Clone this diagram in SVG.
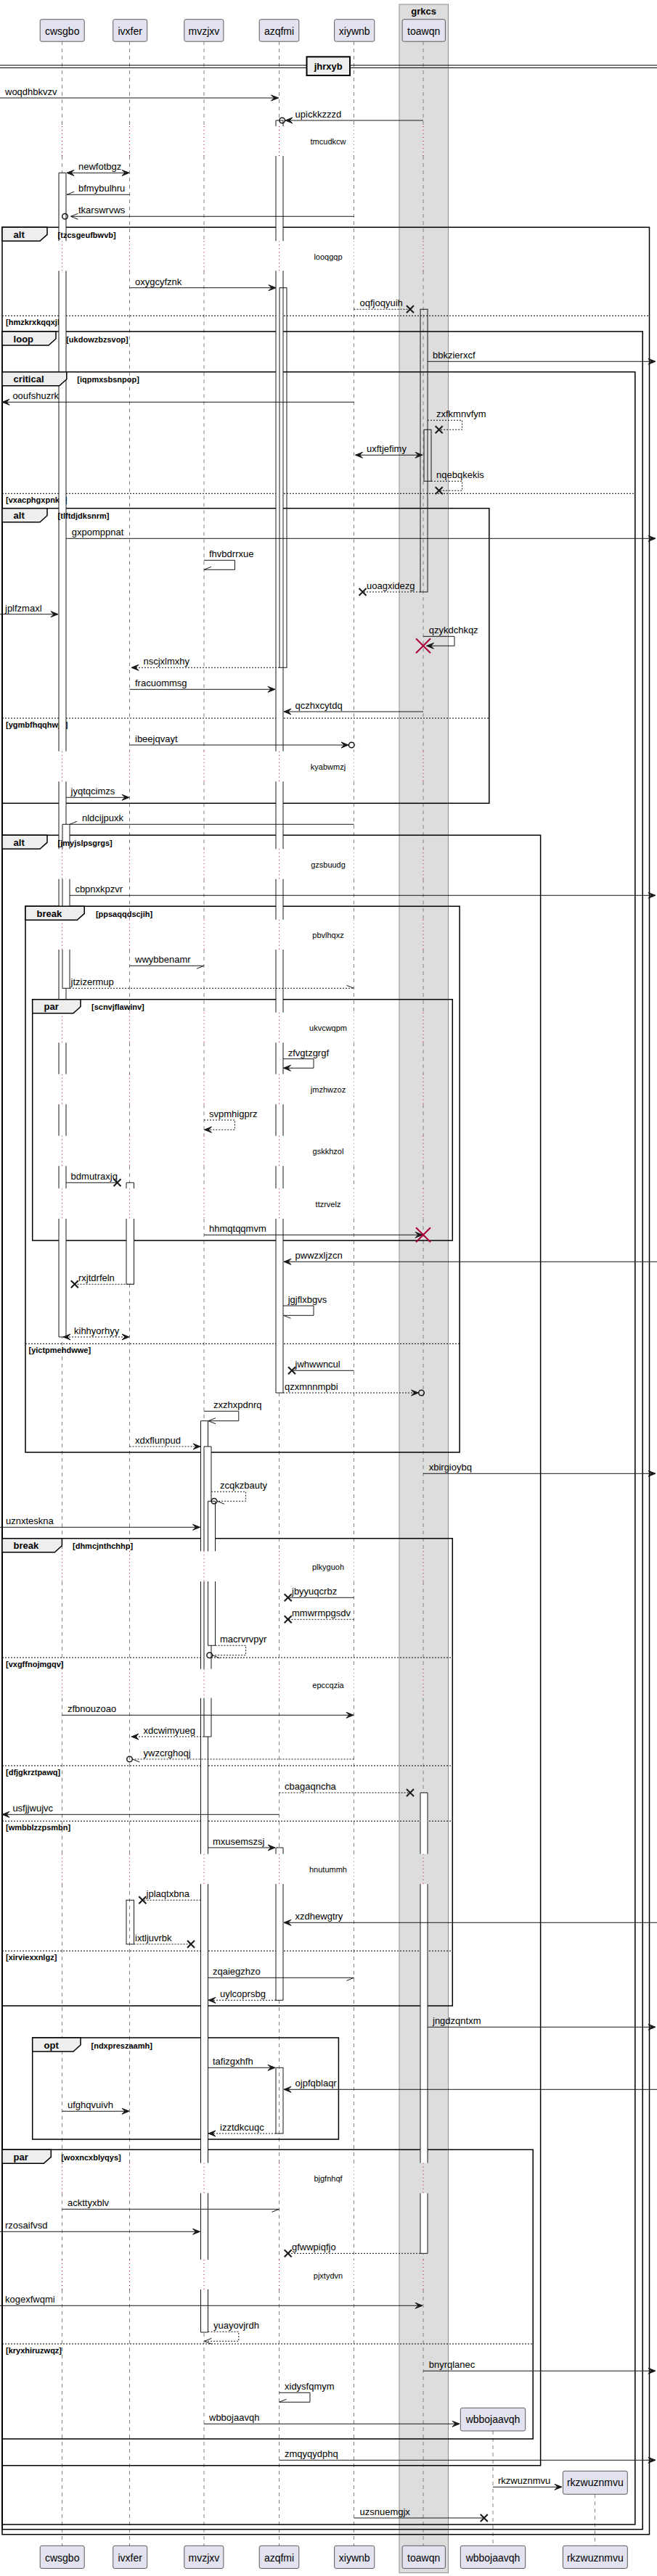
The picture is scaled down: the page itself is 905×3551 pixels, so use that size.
<svg xmlns="http://www.w3.org/2000/svg" width="905" height="3551" viewBox="0 0 905 3551">
<style>
.pb{fill:#E2E2F0;stroke:#5a5a5a;stroke-width:1}
.pt{font-family:"Liberation Sans",Arial,sans-serif;font-size:14px;text-anchor:middle;fill:#000}
.ll{stroke:#808080;stroke-width:1;stroke-dasharray:5,5;fill:none}
.dl{stroke:#A80036;stroke-width:1;stroke-dasharray:1,4;fill:none}
.dlg{stroke:#808080;stroke-width:1;stroke-dasharray:1,4;fill:none}
.fr{fill:none;stroke:#000;stroke-width:1.5}
.fh{fill:#EEEEEE;stroke:#000;stroke-width:1.5}
.ft{font-family:"Liberation Sans",Arial,sans-serif;font-size:13px;font-weight:bold;fill:#000}
.fc{font-family:"Liberation Sans",Arial,sans-serif;font-size:11px;font-weight:bold;fill:#000}
.es{stroke:#000;stroke-width:1;stroke-dasharray:2,2;fill:none}
.m{stroke:#181818;stroke-width:1;fill:none}
.md{stroke:#181818;stroke-width:1;stroke-dasharray:2,2;fill:none}
.ml{font-family:"Liberation Sans",Arial,sans-serif;font-size:13px;fill:#000}
.dt{font-family:"Liberation Sans",Arial,sans-serif;font-size:11px;text-anchor:middle;fill:#000}
.ab{fill:#fff;stroke:none}
.ae{fill:none;stroke:#181818;stroke-width:1}
.x{stroke:#181818;stroke-width:2;fill:none}
.rx{stroke:#A80036;stroke-width:2;fill:none}
.ci{fill:none;stroke:#181818;stroke-width:1.5}
</style>
<defs>
<marker id="f" viewBox="-11 -6 13 12" refX="0" refY="0" markerWidth="13" markerHeight="12" markerUnits="userSpaceOnUse" orient="auto-start-reverse"><path d="M0,0 L-10,-4 L-6,0 L-10,4 Z" fill="#181818" stroke="#181818" stroke-width="1"/></marker>
<marker id="o" viewBox="-11 -6 13 12" refX="0" refY="0" markerWidth="13" markerHeight="12" markerUnits="userSpaceOnUse" orient="auto-start-reverse"><path d="M-10,-4 L0,0 L-10,4" fill="none" stroke="#181818" stroke-width="1"/></marker>
<marker id="hu" viewBox="-11 -6 13 12" refX="0" refY="0" markerWidth="13" markerHeight="12" markerUnits="userSpaceOnUse" orient="auto"><path d="M-10,-4 L0,0" fill="none" stroke="#181818" stroke-width="1"/></marker>
<marker id="hd" viewBox="-11 -6 13 12" refX="0" refY="0" markerWidth="13" markerHeight="12" markerUnits="userSpaceOnUse" orient="auto"><path d="M-10,4 L0,0" fill="none" stroke="#181818" stroke-width="1"/></marker>
<path id="ll" d="M0 57V174M0 215V332.3M0 373.3V1035.7M0 1077.3V1170.3M0 1211.7V1267.7M0 1309V1395.7M0 1437.3V1480.7M0 1522.3V1565.7M0 1607.3V1638.3M0 1680V2138.3M0 2180V2300.7M0 2340.7V2555.7M0 2597V2981.7M0 3023.3V3115M0 3156V3509"/>
<path id="dl" d="M0 174V215M0 332.3V373.3M0 1035.7V1077.3M0 1170.3V1211.7M0 1267.7V1309M0 1395.7V1437.3M0 1480.7V1522.3M0 1565.7V1607.3M0 1638.3V1680M0 2138.3V2180M0 2300.7V2340.7M0 2555.7V2597M0 2981.7V3023.3M0 3115V3156"/>
<path id="xm" d="M-5,-5L5,5M-5,5L5,-5"/>
<path id="rxm" d="M-10,-10L10,10M-10,10L10,-10"/>
</defs>
<rect x="0" y="0" width="905" height="3551" fill="#fff"/>
<g id="box-grkcs">
<rect x="550" y="6" width="67.5" height="3540.7" fill="#DDDDDD" stroke="#8d8d8d" stroke-width="1"/>
<text x="583.7" y="20" class="ft" text-anchor="middle">grkcs</text>
</g>
<g id="lifelines">
<use href="#ll" x="85.5" class="ll"/><use href="#dl" x="85.5" class="dl"/>
<use href="#ll" x="178.5" class="ll"/><use href="#dl" x="178.5" class="dl"/>
<use href="#ll" x="281" class="ll"/><use href="#dl" x="281" class="dl"/>
<use href="#ll" x="384.5" class="ll"/><use href="#dl" x="384.5" class="dl"/>
<use href="#ll" x="487.5" class="ll"/><use href="#dl" x="487.5" class="dlg"/>
<use href="#ll" x="583" class="ll"/><use href="#dl" x="583" class="dl"/>
<path class="ll" d="M679 3351V3509M819.5 3438.3V3509"/>
</g>
<g id="separator-jhrxyb">
<path d="M0 90H905M0 93.5H905" stroke="#000" stroke-width="1" fill="none"/>
<rect x="422.5" y="78.3" width="59.5" height="25.7" fill="#EEEEEE" stroke="#000" stroke-width="2"/>
<text x="452.2" y="96" class="ft" text-anchor="middle">jhrxyb</text>
</g>
<g id="frames">
<rect class="fr" x="3" y="313.3" width="891.5" height="3180.4"/>
<rect class="fr" x="3" y="457" width="882.2" height="3029.7"/>
<rect class="fr" x="3" y="512.7" width="871.8" height="2967.3"/>
<rect class="fr" x="3" y="700.7" width="670.8" height="406.6"/>
<rect class="fr" x="3" y="1151.3" width="741.6" height="2247.4"/>
<rect class="fr" x="35" y="1249.3" width="598.1" height="752.7"/>
<rect class="fr" x="44.7" y="1377.7" width="578.6" height="332.3"/>
<rect class="fr" x="3" y="2120.7" width="620.3" height="644.3"/>
<rect class="fr" x="44.7" y="2809" width="421.7" height="140"/>
<rect class="fr" x="3" y="2963.3" width="731.2" height="398.7"/>
<path class="es" d="M3 435.3H894.5M3 680.3H874.8M3 990H673.8M35 1852.3H633.1M3 2285H623.3M3 2434H623.3M3 2510.3H623.3M3 2689.3H623.3M3 3231H734.2"/>
<text class="fc" x="8" y="448">[hmzkrxkqqxjk]</text>
<text class="fc" x="8" y="693">[vxacphgxpnkq]</text>
<text class="fc" x="8" y="1002.5">[ygmbfhqqhwjd]</text>
<text class="fc" x="39.5" y="1865">[yictpmehdwwe]</text>
<text class="fc" x="8" y="2297.5">[vxgffnojmgqv]</text>
<text class="fc" x="8" y="2446.5">[dfjgkrztpawq]</text>
<text class="fc" x="8" y="2523">[wmbblzzpsmbn]</text>
<text class="fc" x="8" y="2702">[xirviexxnlgz]</text>
<text class="fc" x="8" y="3243.5">[kryxhiruzwqz]</text>
</g>
<g id="activations">
<rect class="ab" x="81" y="238.3" width="10" height="94"/><rect class="ab" x="81" y="373.3" width="10" height="662.4"/><rect class="ab" x="81" y="1077.3" width="10" height="93"/><rect class="ab" x="81" y="1211.7" width="10" height="56"/><rect class="ab" x="81" y="1309" width="10" height="86.7"/><rect class="ab" x="81" y="1437.3" width="10" height="43.4"/><rect class="ab" x="81" y="1522.3" width="10" height="43.4"/><rect class="ab" x="81" y="1607.3" width="10" height="31"/><rect class="ab" x="81" y="1680" width="10" height="163"/>
<path class="ae" d="M81 238.3H91M81 1843H91M81 238.3V332.3M91 238.3V332.3M81 373.3V1035.7M91 373.3V1035.7M81 1077.3V1170.3M91 1077.3V1170.3M81 1211.7V1267.7M91 1211.7V1267.7M81 1309V1395.7M91 1309V1395.7M81 1437.3V1480.7M91 1437.3V1480.7M81 1522.3V1565.7M91 1522.3V1565.7M81 1607.3V1638.3M91 1607.3V1638.3M81 1680V1843M91 1680V1843"/>
<rect class="ab" x="86" y="1136.3" width="10" height="34"/><rect class="ab" x="86" y="1211.7" width="10" height="56"/><rect class="ab" x="86" y="1309" width="10" height="53.3"/>
<path class="ae" d="M86 1136.3H96M86 1362.3H96M86 1136.3V1170.3M96 1136.3V1170.3M86 1211.7V1267.7M96 1211.7V1267.7M86 1309V1362.3M96 1309V1362.3"/>
<rect class="ab" x="174" y="1630.3" width="10.5" height="8"/><rect class="ab" x="174" y="1680" width="10.5" height="90.3"/>
<path class="ae" d="M174 1630.3H184.5M174 1770.3H184.5M174 1630.3V1638.3M184.5 1630.3V1638.3M174 1680V1770.3M184.5 1680V1770.3"/>
<rect class="ae" fill="#fff" x="174" y="2619.3" width="10.5" height="60.7"/>
<rect class="ab" x="276.5" y="1958.7" width="10" height="179.6"/><rect class="ab" x="276.5" y="2180" width="10" height="120.7"/><rect class="ab" x="276.5" y="2340.7" width="10" height="215"/><rect class="ab" x="276.5" y="2597" width="10" height="384.7"/><rect class="ab" x="276.5" y="3023.3" width="10" height="91.7"/><rect class="ab" x="276.5" y="3156" width="10" height="59"/>
<path class="ae" d="M276.5 1958.7H286.5M276.5 3215H286.5M276.5 1958.7V2138.3M286.5 1958.7V2138.3M276.5 2180V2300.7M286.5 2180V2300.7M276.5 2340.7V2555.7M286.5 2340.7V2555.7M276.5 2597V2981.7M286.5 2597V2981.7M276.5 3023.3V3115M286.5 3023.3V3115M276.5 3156V3215M286.5 3156V3215"/>
<rect class="ab" x="281" y="1994" width="10" height="144.3"/><rect class="ab" x="281" y="2180" width="10" height="120.7"/><rect class="ab" x="281" y="2340.7" width="10" height="53.3"/>
<path class="ae" d="M281 1994H291M281 2394H291M281 1994V2138.3M291 1994V2138.3M281 2180V2300.7M291 2180V2300.7M281 2340.7V2394M291 2340.7V2394"/>
<rect class="ab" x="286.5" y="2069.3" width="10" height="69"/><rect class="ab" x="286.5" y="2180" width="10" height="88.3"/>
<path class="ae" d="M286.5 2069.3H296.5M286.5 2268.3H296.5M286.5 2069.3V2138.3M296.5 2069.3V2138.3M286.5 2180V2268.3M296.5 2180V2268.3"/>
<rect class="ab" x="380" y="166" width="10" height="8"/><rect class="ab" x="380" y="215" width="10" height="117.3"/><rect class="ab" x="380" y="373.3" width="10" height="662.4"/><rect class="ab" x="380" y="1077.3" width="10" height="93"/><rect class="ab" x="380" y="1211.7" width="10" height="56"/><rect class="ab" x="380" y="1309" width="10" height="86.7"/><rect class="ab" x="380" y="1437.3" width="10" height="43.4"/><rect class="ab" x="380" y="1522.3" width="10" height="43.4"/><rect class="ab" x="380" y="1607.3" width="10" height="31"/><rect class="ab" x="380" y="1680" width="10" height="240"/>
<path class="ae" d="M380 166H390M380 1920H390M380 166V174M390 166V174M380 215V332.3M390 215V332.3M380 373.3V1035.7M390 373.3V1035.7M380 1077.3V1170.3M390 1077.3V1170.3M380 1211.7V1267.7M390 1211.7V1267.7M380 1309V1395.7M390 1309V1395.7M380 1437.3V1480.7M390 1437.3V1480.7M380 1522.3V1565.7M390 1522.3V1565.7M380 1607.3V1638.3M390 1607.3V1638.3M380 1680V1920M390 1680V1920"/>
<rect class="ae" fill="#fff" x="385" y="396.7" width="10" height="523.6"/>
<rect class="ab" x="380" y="2547" width="10" height="8.7"/><rect class="ab" x="380" y="2597" width="10" height="160.3"/>
<path class="ae" d="M380 2547H390M380 2757.3H390M380 2547V2555.7M390 2547V2555.7M380 2597V2757.3M390 2597V2757.3"/>
<rect class="ae" fill="#fff" x="380" y="2850.3" width="10" height="90.7"/>
<rect class="ae" fill="#fff" x="579" y="426.3" width="10" height="389.7"/>
<rect class="ae" fill="#fff" x="584" y="592.3" width="10" height="71"/>
<rect class="ab" x="579" y="2471.3" width="10" height="84.4"/><rect class="ab" x="579" y="2597" width="10" height="384.7"/><rect class="ab" x="579" y="3023.3" width="10" height="83"/>
<path class="ae" d="M579 2471.3H589M579 3106.3H589M579 2471.3V2555.7M589 2471.3V2555.7M579 2597V2981.7M589 2597V2981.7M579 3023.3V3106.3M589 3023.3V3106.3"/>
</g>
<g id="delays">
<text class="dt" x="452" y="199">tmcudkcw</text>
<text class="dt" x="452" y="358">looqgqp</text>
<text class="dt" x="452" y="1061">kyabwmzj</text>
<text class="dt" x="452" y="1196">gzsbuudg</text>
<text class="dt" x="452" y="1293">pbvlhqxz</text>
<text class="dt" x="452" y="1421">ukvcwqpm</text>
<text class="dt" x="452" y="1506">jmzhwzoz</text>
<text class="dt" x="452" y="1591">gskkhzol</text>
<text class="dt" x="452" y="1664">ttzrvelz</text>
<text class="dt" x="452" y="2164">plkyguoh</text>
<text class="dt" x="452" y="2326.5">epccqzia</text>
<text class="dt" x="452" y="2581">hnutummh</text>
<text class="dt" x="452" y="3007">bjgfnhqf</text>
<text class="dt" x="452" y="3140.5">pjxtydvn</text>
</g>
<g id="connectors">
<path class="m" d="M0 135H383.5" marker-end="url(#f)"/><text class="ml" x="7" y="131">woqdhbkvzv</text>
<path class="m" d="M583 166H393" marker-end="url(#f)"/><circle class="ci" cx="388.6" cy="166" r="3.8"/><text class="ml" x="406.6" y="161.5">upickkzzzd</text>
<path class="m" d="M92 238.3H178" marker-start="url(#f)" marker-end="url(#f)"/><text class="ml" x="108" y="234">newfotbgz</text>
<path class="m" d="M178.5 268.3H92" marker-end="url(#hd)"/><text class="ml" x="108" y="264">bfmybulhru</text>
<path class="m" d="M487.5 298.3H97.5" marker-end="url(#o)"/><circle class="ci" cx="89.5" cy="298.3" r="3.8"/><text class="ml" x="108" y="294">tkarswrvws</text>
<path class="m" d="M178.5 396.7H380" marker-end="url(#f)"/><text class="ml" x="186" y="392.5">oxygcyfznk</text>
<path class="md" d="M487.5 426.3H565"/><use href="#xm" x="565" y="426.3" class="x"/><text class="ml" x="495.5" y="422">oqfjoqyuih</text>
<path class="m" d="M589 498.3H903" marker-end="url(#f)"/><text class="ml" x="596" y="494">bbkzierxcf</text>
<path class="m" d="M487.5 554.3H3" marker-end="url(#f)"/><text class="ml" x="17.4" y="550">ooufshuzrk</text>
<path class="md" d="M589 579.3H636.6V592.3H604.7"/><use href="#xm" x="604.7" y="592.3" class="x"/><text class="ml" x="601" y="575">zxfkmnvfym</text>
<path class="m" d="M489.5 627.3H582" marker-start="url(#f)" marker-end="url(#f)"/><text class="ml" x="505" y="623">uxftjefimy</text>
<path class="md" d="M594 663.3H636.6V676.3H604.7"/><use href="#xm" x="604.7" y="676.3" class="x"/><text class="ml" x="601" y="659">nqebqkekis</text>
<path class="m" d="M91 742.3H903" marker-end="url(#f)"/><text class="ml" x="98.7" y="738">gxpomppnat</text>
<path class="m" d="M281 772.3H323.5V785.3H281" marker-end="url(#hd)"/><text class="ml" x="288" y="768">fhvbdrrxue</text>
<path class="md" d="M579 816H499.5"/><use href="#xm" x="499.5" y="816" class="x"/><text class="ml" x="505" y="812">uoagxidezg</text>
<path class="m" d="M0 846.7H80" marker-end="url(#f)"/><text class="ml" x="7" y="842.5">jplfzmaxl</text>
<path class="m" d="M583 877.3H626V890.3H587.5" marker-end="url(#f)"/><use href="#rxm" x="583" y="890.3" class="rx"/><text class="ml" x="590.7" y="873">qzykdchkqz</text>
<path class="md" d="M385 920.3H181" marker-end="url(#f)"/><text class="ml" x="197.5" y="916">nscjxlmxhy</text>
<path class="m" d="M178.5 950.3H379" marker-end="url(#f)"/><text class="ml" x="186" y="946">fracuommsg</text>
<path class="m" d="M583 981H391" marker-end="url(#f)"/><text class="ml" x="406.6" y="977">qczhxcytdq</text>
<path class="m" d="M178.5 1027H480" marker-end="url(#f)"/><circle class="ci" cx="484.3" cy="1027" r="3.8"/><text class="ml" x="186" y="1023">ibeejqvayt</text>
<path class="m" d="M91 1099.3H178" marker-end="url(#f)"/><text class="ml" x="97.6" y="1095">jyqtqcimzs</text>
<path class="m" d="M487.5 1136.3H96" marker-end="url(#hd)"/><text class="ml" x="113" y="1132">nldcijpuxk</text>
<path class="m" d="M96 1234.3H903" marker-end="url(#f)"/><text class="ml" x="103.4" y="1230">cbpnxkpzvr</text>
<path class="m" d="M178.5 1331.3H281" marker-end="url(#hd)"/><text class="ml" x="186" y="1327">wwybbenamr</text>
<path class="md" d="M96 1362.3H487.5" marker-end="url(#hu)"/><text class="ml" x="97.6" y="1358">jtzizermup</text>
<path class="m" d="M390 1459.7H432V1472.3H390.5" marker-end="url(#f)"/><text class="ml" x="396.7" y="1455.5">zfvgtzgrgf</text>
<path class="md" d="M281 1544H323.5V1557.3H281.5" marker-end="url(#f)"/><text class="ml" x="288" y="1540">svpmhigprz</text>
<path class="m" d="M91 1630.3H161.5"/><use href="#xm" x="161.5" y="1630.3" class="x"/><text class="ml" x="97.6" y="1626">bdmutraxjq</text>
<path class="m" d="M281 1702.3H582" marker-end="url(#f)"/><use href="#rxm" x="583" y="1702.3" class="rx"/><text class="ml" x="288" y="1698">hhmqtqqmvm</text>
<path class="m" d="M905 1739.3H391" marker-end="url(#f)"/><text class="ml" x="406.6" y="1735">pwwzxljzcn</text>
<path class="md" d="M184.5 1770.3H102.8"/><use href="#xm" x="102.8" y="1770.3" class="x"/><text class="ml" x="108" y="1766">rxjtdrfeln</text>
<path class="m" d="M390 1800H432V1813.3H390.5" marker-end="url(#hu)"/><text class="ml" x="396.7" y="1796">jgjflxbgvs</text>
<path class="md" d="M87 1843H178" marker-start="url(#f)" marker-end="url(#f)"/><text class="ml" x="102" y="1839">kihhyorhyy</text>
<path class="m" d="M487.5 1889.3H402"/><use href="#xm" x="402" y="1889.3" class="x"/><text class="ml" x="406.6" y="1885">jwhwwncul</text>
<path class="md" d="M390 1920H576.5" marker-end="url(#f)"/><circle class="ci" cx="580.5" cy="1920" r="3.8"/><text class="ml" x="392" y="1916">qzxmnnmpbi</text>
<path class="m" d="M281 1945.3H328.8V1958.7H287" marker-end="url(#o)"/><text class="ml" x="294" y="1941">zxzhxpdnrq</text>
<path class="md" d="M178.5 1994H276" marker-end="url(#f)"/><text class="ml" x="186" y="1990">xdxflunpud</text>
<path class="m" d="M583 2031.3H903" marker-end="url(#f)"/><text class="ml" x="590.7" y="2027">xbirgioybq</text>
<path class="md" d="M291 2056.3H338.6V2069.3H299" marker-end="url(#hu)"/><circle class="ci" cx="295" cy="2069.3" r="3.8"/><text class="ml" x="303" y="2052">zcqkzbauty</text>
<path class="m" d="M0 2105.3H275.5" marker-end="url(#f)"/><text class="ml" x="8" y="2101">uznxteskna</text>
<path class="m" d="M487.5 2202.3H396.7"/><use href="#xm" x="396.7" y="2202.3" class="x"/><text class="ml" x="402" y="2198">jbyyuqcrbz</text>
<path class="md" d="M487.5 2232.3H396.7"/><use href="#xm" x="396.7" y="2232.3" class="x"/><text class="ml" x="402" y="2228">mmwrmpgsdv</text>
<path class="md" d="M296.5 2268.3H338.6V2281.7H292.5" marker-end="url(#hu)"/><circle class="ci" cx="288.7" cy="2281.7" r="3.8"/><text class="ml" x="303" y="2264">macrvrvpyr</text>
<path class="m" d="M85.5 2364.3H487" marker-end="url(#f)"/><text class="ml" x="93" y="2360">zfbnouzoao</text>
<path class="md" d="M281 2394H181" marker-end="url(#f)"/><text class="ml" x="197.5" y="2390">xdcwimyueg</text>
<path class="md" d="M487.5 2425H182.3" marker-end="url(#hu)"/><circle class="ci" cx="178.5" cy="2425" r="3.8"/><text class="ml" x="197.5" y="2421">ywzcrghoqj</text>
<path class="md" d="M384.5 2471.3H565"/><use href="#xm" x="565" y="2471.3" class="x"/><text class="ml" x="392" y="2467">cbagaqncha</text>
<path class="m" d="M384.5 2501.3H3" marker-end="url(#f)"/><text class="ml" x="17.4" y="2497">usfjjwujvc</text>
<path class="m" d="M286.5 2547H379" marker-end="url(#f)"/><text class="ml" x="293" y="2543">mxusemszsj</text>
<path class="md" d="M276.5 2619.3H196.3"/><use href="#xm" x="196.3" y="2619.3" class="x"/><text class="ml" x="201.6" y="2615">jplaqtxbna</text>
<path class="m" d="M905 2650.3H391" marker-end="url(#f)"/><text class="ml" x="406.6" y="2646">xzdhewgtry</text>
<path class="md" d="M184.5 2680H263"/><use href="#xm" x="263" y="2680" class="x"/><text class="ml" x="186" y="2676">ixtljuvrbk</text>
<path class="m" d="M286.5 2726.3H487.5" marker-end="url(#hd)"/><text class="ml" x="293" y="2722">zqaiegzhzo</text>
<path class="md" d="M380 2757.3H287" marker-end="url(#f)"/><text class="ml" x="303" y="2753">uylcoprsbg</text>
<path class="m" d="M589 2794.3H903" marker-end="url(#f)"/><text class="ml" x="596" y="2790">jngdzqntxm</text>
<path class="m" d="M286.5 2850.3H379" marker-end="url(#f)"/><text class="ml" x="293" y="2846">tafizgxhfh</text>
<path class="m" d="M905 2880.3H391" marker-end="url(#f)"/><text class="ml" x="406.6" y="2876">ojpfqblaqr</text>
<path class="m" d="M85.5 2910.3H178" marker-end="url(#f)"/><text class="ml" x="93" y="2906">ufghqvuivh</text>
<path class="md" d="M380 2941H287" marker-end="url(#f)"/><text class="ml" x="303" y="2937">izztdkcuqc</text>
<path class="m" d="M85.5 3045.3H384.5" marker-end="url(#hd)"/><text class="ml" x="93" y="3041">ackttyxblv</text>
<path class="m" d="M0 3076.3H275.5" marker-end="url(#f)"/><text class="ml" x="7" y="3072">rzosaifvsd</text>
<path class="md" d="M579 3106.3H396.7"/><use href="#xm" x="396.7" y="3106.3" class="x"/><text class="ml" x="402" y="3102">gfwwpiqfjo</text>
<path class="m" d="M0 3178.3H582" marker-end="url(#f)"/><text class="ml" x="7" y="3174">kogexfwqmi</text>
<path class="md" d="M286.5 3214.3H328.8V3227.3H281.5" marker-end="url(#o)"/><text class="ml" x="294" y="3210">yuayovjrdh</text>
<path class="m" d="M583 3268.3H903" marker-end="url(#f)"/><text class="ml" x="590.7" y="3264">bnyrqlanec</text>
<path class="m" d="M384.5 3298.3H427V3311.3H384.5" marker-end="url(#hd)"/><text class="ml" x="392" y="3294">xidysfqmym</text>
<path class="m" d="M281 3341.3H633" marker-end="url(#f)"/><text class="ml" x="288" y="3337">wbbojaavqh</text>
<path class="m" d="M384.5 3391.3H903" marker-end="url(#f)"/><text class="ml" x="392" y="3387">zmqyqydphq</text>
<path class="m" d="M679 3428.3H774" marker-end="url(#f)"/><text class="ml" x="686" y="3424">rkzwuznmvu</text>
<path class="m" d="M487.5 3471H666.8"/><use href="#xm" x="666.8" y="3471" class="x"/><text class="ml" x="495.5" y="3467">uzsnuemgjx</text>
</g>
<g id="frame-headers">
<polygon class="fh" points="3,313.3 65,313.3 65,323.3 55,332.3 3,332.3"/><text class="ft" x="18.6" y="327.8">alt</text><text class="fc" x="79.6" y="327.8">[tzcsgeufbwvb]</text>
<polygon class="fh" points="3,457 77,457 77,467 67,476 3,476"/><text class="ft" x="18.6" y="471.5">loop</text><text class="fc" x="91.2" y="471.5">[ukdowzbzsvop]</text>
<polygon class="fh" points="3,512.7 91.8,512.7 91.8,522.7 81.8,531.7 3,531.7"/><text class="ft" x="18.6" y="527.2">critical</text><text class="fc" x="106.3" y="527.2">[iqpmxsbsnpop]</text>
<polygon class="fh" points="3,700.7 65,700.7 65,710.7 55,719.7 3,719.7"/><text class="ft" x="18.6" y="715.2">alt</text><text class="fc" x="79.6" y="715.2">[tlftdjdksnrm]</text>
<polygon class="fh" points="3,1151.3 65,1151.3 65,1161.3 55,1170.3 3,1170.3"/><text class="ft" x="18.6" y="1165.8">alt</text><text class="fc" x="79.6" y="1165.8">[jmyjslpsgrgs]</text>
<polygon class="fh" points="35,1249.3 116.2,1249.3 116.2,1259.3 106.2,1268.3 35,1268.3"/><text class="ft" x="50.6" y="1263.8">break</text><text class="fc" x="131.9" y="1263.8">[ppsaqqdscjih]</text>
<polygon class="fh" points="44.7,1377.7 111,1377.7 111,1387.7 101,1396.7 44.7,1396.7"/><text class="ft" x="60.6" y="1392.2">par</text><text class="fc" x="126" y="1392.2">[scnvjflawinv]</text>
<polygon class="fh" points="3,2120.7 85.4,2120.7 85.4,2130.7 75.4,2139.7 3,2139.7"/><text class="ft" x="18.6" y="2135.2">break</text><text class="fc" x="100" y="2135.2">[dhmcjnthchhp]</text>
<polygon class="fh" points="44.7,2809 111,2809 111,2819 101,2828 44.7,2828"/><text class="ft" x="60.6" y="2823.5">opt</text><text class="fc" x="125.5" y="2823.5">[ndxpreszaamh]</text>
<polygon class="fh" points="3,2963.3 70.3,2963.3 70.3,2973.3 60.3,2982.3 3,2982.3"/><text class="ft" x="18.6" y="2977.8">par</text><text class="fc" x="84.2" y="2977.8">[woxncxblyqys]</text>
</g>
<g id="p-cwsgbo"><rect class="pb" x="55.2" y="26.7" width="61" height="30.5" rx="2.5"/><text class="pt" x="85.7" y="47.5">cwsgbo</text><rect class="pb" x="55.2" y="3509.3" width="61" height="31.2" rx="2.5"/><text class="pt" x="85.7" y="3530.5">cwsgbo</text></g>
<g id="p-ivxfer"><rect class="pb" x="155.7" y="26.7" width="47" height="30.5" rx="2.5"/><text class="pt" x="179.2" y="47.5">ivxfer</text><rect class="pb" x="155.7" y="3509.3" width="47" height="31.2" rx="2.5"/><text class="pt" x="179.2" y="3530.5">ivxfer</text></g>
<g id="p-mvzjxv"><rect class="pb" x="253.8" y="26.7" width="54.1" height="30.5" rx="2.5"/><text class="pt" x="280.9" y="47.5">mvzjxv</text><rect class="pb" x="253.8" y="3509.3" width="54.1" height="31.2" rx="2.5"/><text class="pt" x="280.9" y="3530.5">mvzjxv</text></g>
<g id="p-azqfmi"><rect class="pb" x="357.2" y="26.7" width="54.6" height="30.5" rx="2.5"/><text class="pt" x="384.5" y="47.5">azqfmi</text><rect class="pb" x="357.2" y="3509.3" width="54.6" height="31.2" rx="2.5"/><text class="pt" x="384.5" y="3530.5">azqfmi</text></g>
<g id="p-xiywnb"><rect class="pb" x="460.6" y="26.7" width="55.2" height="30.5" rx="2.5"/><text class="pt" x="488.2" y="47.5">xiywnb</text><rect class="pb" x="460.6" y="3509.3" width="55.2" height="31.2" rx="2.5"/><text class="pt" x="488.2" y="3530.5">xiywnb</text></g>
<g id="p-toawqn"><rect class="pb" x="554.1" y="26.7" width="59.3" height="30.5" rx="2.5"/><text class="pt" x="583.7" y="47.5">toawqn</text><rect class="pb" x="554.1" y="3509.3" width="59.3" height="31.2" rx="2.5"/><text class="pt" x="583.7" y="3530.5">toawqn</text></g>
<g id="p-wbbojaavqh"><rect class="pb" x="634.3" y="3319.3" width="89.4" height="31.7" rx="2.5"/><text class="pt" x="679" y="3340">wbbojaavqh</text><rect class="pb" x="634.3" y="3509.3" width="89.4" height="31.2" rx="2.5"/><text class="pt" x="679" y="3530.5">wbbojaavqh</text></g>
<g id="p-rkzwuznmvu"><rect class="pb" x="775.4" y="3406.3" width="88.9" height="32" rx="2.5"/><text class="pt" x="819.8" y="3427">rkzwuznmvu</text><rect class="pb" x="775.4" y="3509.3" width="88.9" height="31.2" rx="2.5"/><text class="pt" x="819.8" y="3530.5">rkzwuznmvu</text></g>
</svg>
